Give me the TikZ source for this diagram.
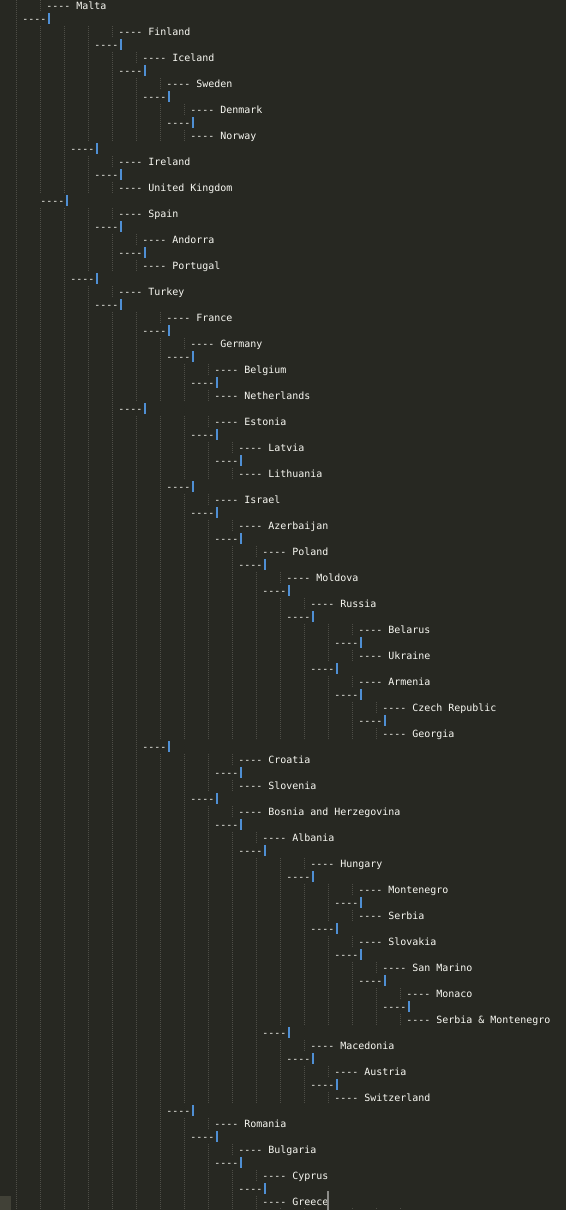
\documentclass[tikz,border=0pt]{standalone}
\usepackage{fontspec}
\setmonofont{DejaVu Sans Mono}
\definecolor{editorbg}{HTML}{272822}
\definecolor{codefg}{HTML}{F8F8F2}
\definecolor{guidegray}{HTML}{4E4E47}
\definecolor{barblue}{HTML}{4F8FD4}
\definecolor{gutterhl}{HTML}{414137}
\definecolor{caretgray}{HTML}{8C8C88}

\begin{document}
\begin{tikzpicture}[x=1pt,y=-1pt,
  code/.style={anchor=base west,inner sep=0pt,outer sep=0pt,text=codefg,
    font=\ttfamily\fontsize{9.966}{13}\selectfont},
  indentguide/.style={draw=guidegray,line width=1pt,dash pattern=on 1pt off 1pt},
  linemask/.style={fill=editorbg},
  joinbar/.style={fill=barblue}]

% editor background
\fill[editorbg] (0,0) rectangle (566,1210);
\useasboundingbox (0,0) rectangle (566,1210);

% indent guides (hidden again to the right of each line's text start)
\foreach \k in {0,...,16}
  \draw[indentguide] ({16.3+24*\k},0) -- ({16.3+24*\k},1210);

% leaf lines: row / column / label
\foreach \i/\c/\t in {
  0/5/Malta, 2/17/Finland, 4/21/Iceland, 6/25/Sweden, 8/29/Denmark,
  10/29/Norway, 12/17/Ireland, 14/17/United Kingdom, 16/17/Spain,
  18/21/Andorra, 20/21/Portugal, 22/17/Turkey, 24/25/France,
  26/29/Germany, 28/33/Belgium, 30/33/Netherlands, 32/33/Estonia,
  34/37/Latvia, 36/37/Lithuania, 38/33/Israel, 40/37/Azerbaijan,
  42/41/Poland, 44/45/Moldova, 46/49/Russia, 48/57/Belarus,
  50/57/Ukraine, 52/57/Armenia, 54/61/Czech Republic, 56/61/Georgia,
  58/37/Croatia, 60/37/Slovenia, 62/37/Bosnia and Herzegovina,
  64/41/Albania, 66/49/Hungary, 68/57/Montenegro, 70/57/Serbia,
  72/57/Slovakia, 74/61/San Marino, 76/65/Monaco,
  78/65/Serbia \& Montenegro, 80/49/Macedonia, 82/53/Austria,
  84/53/Switzerland, 86/33/Romania, 88/37/Bulgaria, 90/41/Cyprus,
  92/41/Greece}{
  \pgfmathsetmacro\ox{16.3+6*\c}
  \fill[linemask] ({\ox-2},{13*\i-1.5}) rectangle (566,{13*\i+11.5});
  \node[code] (leaf\i) at (\ox,{13*\i+9}) {---- \t};
}

% junction lines: row / column
\foreach \i/\c in {
  1/1, 3/13, 5/17, 7/21, 9/25, 11/9, 13/13, 15/4, 17/13, 19/17, 21/9,
  23/13, 25/21, 27/25, 29/29, 31/17, 33/29, 35/33, 37/25, 39/29, 41/33,
  43/37, 45/41, 47/45, 49/53, 51/49, 53/53, 55/57, 57/21, 59/33, 61/29,
  63/33, 65/37, 67/45, 69/53, 71/49, 73/53, 75/57, 77/61, 79/41, 81/45,
  83/49, 85/25, 87/29, 89/33, 91/37}{
  \pgfmathsetmacro\ox{16.3+6*\c}
  \fill[linemask] ({\ox-2},{13*\i-1.5}) rectangle (566,{13*\i+11.5});
  \node[code] (join\i) at (\ox,{13*\i+9}) {----};
  \fill[joinbar] ([shift={(2pt,9.3pt)}]join\i.base east)
    rectangle ([shift={(4pt,-2pt)}]join\i.base east);
}

% current-line marker in the gutter and the caret after the last word
\fill[gutterhl] (0,1195.5) rectangle (11,1210);
\fill[caretgray] ([xshift=-1pt]leaf92.base east |- 0,1191) rectangle ([xshift=1pt]leaf92.base east |- 0,1210);

\end{tikzpicture}
\end{document}
